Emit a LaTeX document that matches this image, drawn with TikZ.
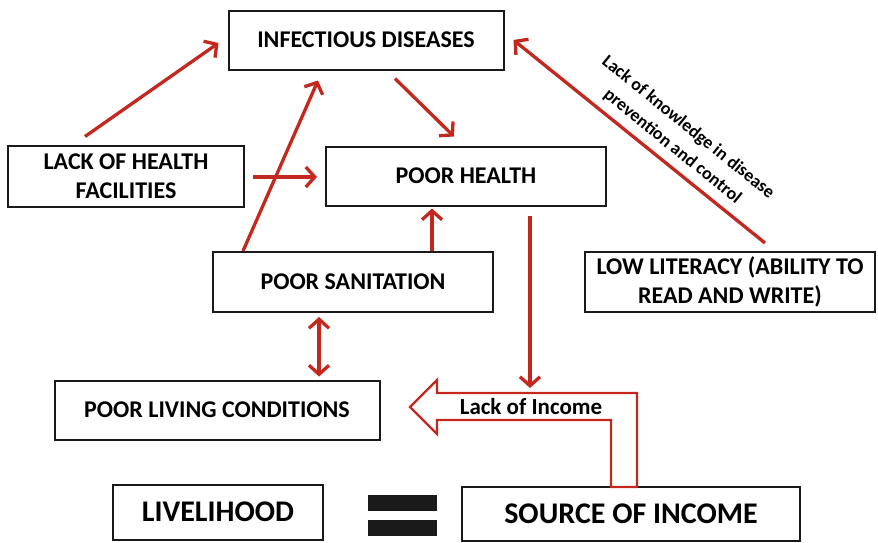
\documentclass[tikz,border=0pt]{standalone}
\usepackage{fontspec}
\setmainfont{Carlito}
\usepackage{xcolor}
\usepackage{tikz}
\usetikzlibrary{arrows.meta, positioning}
\definecolor{linkred}{HTML}{C3271D}
\definecolor{boxline}{HTML}{1A1A1A}

\begin{document}
\begin{tikzpicture}[x=1pt, y=-1pt,
  box/.style={rectangle, draw=boxline, line width=2pt, align=center, inner sep=0pt, font=\bfseries\fontsize{24}{29}\selectfont},
  bigbox/.style={box, font=\bfseries\fontsize{30}{34}\selectfont},
  arrow/.style={-{Straight Barb[length=9pt, width=20pt]}, line width=3.3pt, draw=linkred},
  twoway/.style={{Straight Barb[length=9pt, width=20pt]}-{Straight Barb[length=9pt, width=20pt]}, line width=3.3pt, draw=linkred}
]
  \useasboundingbox (0,0) rectangle (878,542);

  \node[box, minimum width=275pt, minimum height=59pt] (inf) at (366,40) {INFECTIOUS DISEASES};
  \node[box, minimum width=236pt, minimum height=61pt] (lhf) at (126,176) {LACK OF HEALTH\\ FACILITIES};
  \node[box, minimum width=280pt, minimum height=59pt] (ph) at (466,176) {POOR HEALTH};
  \node[box, minimum width=280pt, minimum height=60pt] (ps) at (353,282) {POOR SANITATION};
  \node[box, minimum width=290pt, minimum height=60pt] (ll) at (730,282) {LOW LITERACY (ABILITY TO\\ READ AND WRITE)};
  \node[box, minimum width=325pt, minimum height=59pt] (plc) at (217,410) {POOR LIVING CONDITIONS};
  \node[bigbox, minimum width=210pt, minimum height=55pt] (liv) at (218,512) {LIVELIHOOD};
  \node[bigbox, minimum width=338pt, minimum height=54pt] (soi) at (631,514) {SOURCE OF INCOME};

  % equals sign
  \fill[boxline] (368,495) rectangle (437,511);
  \fill[boxline] (368,520) rectangle (437,536);

  % hollow arrow
  \draw[linkred, line width=2.4pt, line join=miter] (410,407) -- (437,380) -- (437,393) -- (637,393) -- (637,487)
    -- (611,487) -- (611,420) -- (437,420) -- (437,434) -- cycle;
  \node[font=\bfseries\fontsize{23}{26}\selectfont] (loi) at (531,407) {Lack of Income};
  \coordinate (income) at (530,388);

  \draw[arrow] ([xshift=-41pt, yshift=8pt]lhf.north) -- ([xshift=-9pt, yshift=-3pt]inf.west);
  \draw[arrow] ([xshift=8pt, yshift=-1pt]lhf.east) -- ([xshift=-8pt, yshift=-1pt]ph.west);
  \draw[arrow] ([xshift=-110pt]ps.north) -- ([xshift=-48pt, yshift=-10pt]inf.south);
  \draw[arrow] ([xshift=29pt, yshift=-8pt]inf.south) -- ([xshift=-12pt, yshift=9pt]ph.north);
  \draw[arrow] ([xshift=79pt]ps.north) -- ([xshift=-34pt, yshift=-2pt]ph.south);
  \draw[arrow] ([xshift=35pt, yshift=8pt]ll.north) -- node[pos=0.41, sloped, above=4pt, align=center, font=\bfseries\fontsize{18}{25}\selectfont] {Lack of knowledge in disease\\ prevention and control} ([xshift=9pt]inf.east);
  \draw[arrow] ([xshift=64pt, yshift=-9pt]ph.south) -- (income);
  \draw[twoway] ([xshift=-34pt, yshift=-4pt]ps.south) -- ([xshift=102pt, yshift=3pt]plc.north);
\end{tikzpicture}
\end{document}
